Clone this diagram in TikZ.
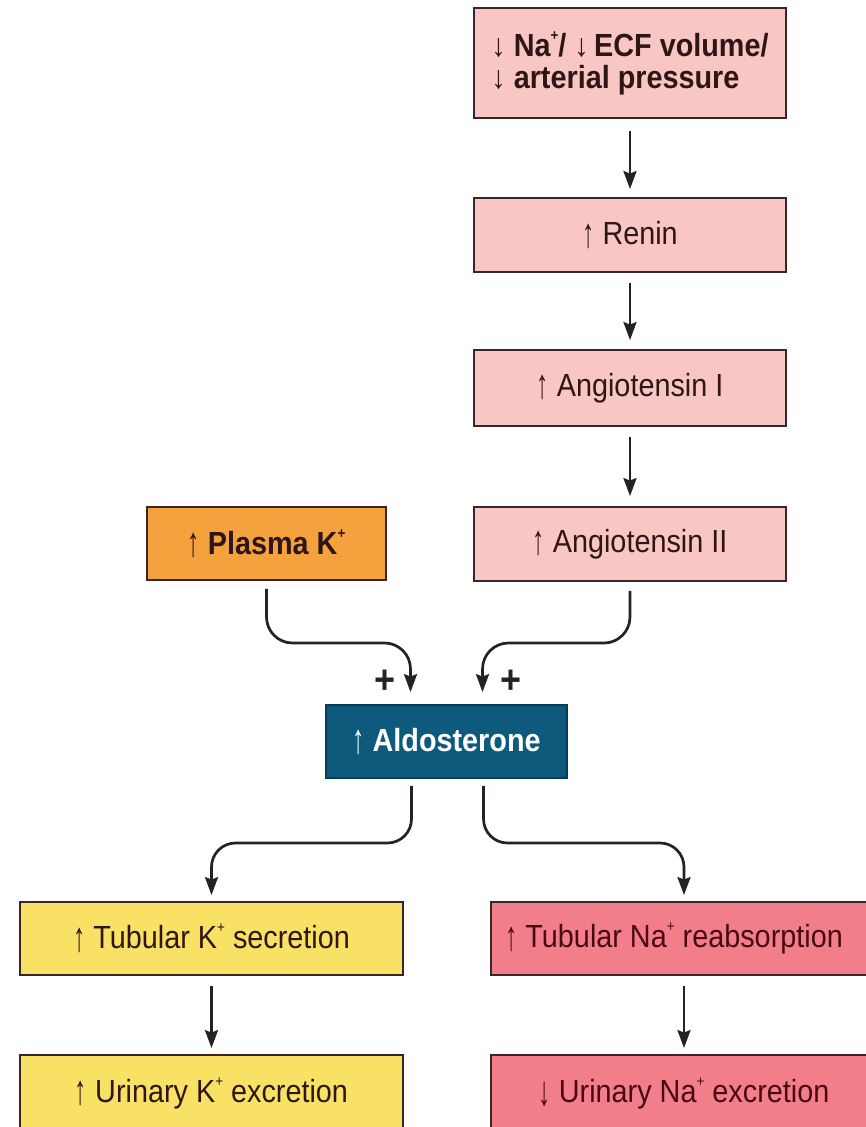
\documentclass[tikz,border=0pt]{standalone}
\usepackage{fontspec}
\setmainfont{Liberation Sans}[FakeStretch=0.9]
\usetikzlibrary{arrows.meta,calc}
\definecolor{pinkbox}{HTML}{F9C7C3}
\definecolor{orangebox}{HTML}{F3A23D}
\definecolor{tealbox}{HTML}{0D5A7C}
\definecolor{tealline}{HTML}{083D56}
\definecolor{yellowbox}{HTML}{F8E165}
\definecolor{redbox}{HTML}{F27E89}
\definecolor{boxline}{HTML}{3A2626}
\definecolor{textdark}{HTML}{2E1616}
\definecolor{textred}{HTML}{4A0A14}
\definecolor{linecol}{HTML}{262222}
\newcommand\upar{\raisebox{-0.08em}{\scalebox{0.85}[1.3]{\mdseries ↑}}}
\newcommand\dnar{\raisebox{-0.12em}{\scalebox{0.85}[1.3]{\mdseries ↓}}}
\newcommand\dnartop{{\mdseries ↓}}
\newcommand\plusup{\raisebox{0.5em}{\fontsize{15}{15}\selectfont +}}
\begin{document}
\begin{tikzpicture}[x=1pt,y=-1pt,
  box/.style={draw=boxline, line width=1.8pt, inner sep=0pt, text=textdark,
    font=\fontsize{32}{30}\selectfont},
  conn/.style={draw=linecol, line width=2.7pt,
    -{Stealth[width=13pt,length=18pt,inset=2.5pt]}},
  plus/.style={text=linecol, inner sep=0pt, font=\fontsize{40}{40}\selectfont\bfseries}]
\useasboundingbox (0,0) rectangle (866,1127);
\fill[white] (0,0) rectangle (866,1127);

\node[box, fill=pinkbox, minimum width=312pt, minimum height=110pt, align=left,
  font=\fontsize{32}{32}\selectfont\bfseries] (na) at (630,63)
  {\dnartop\ Na\plusup/ \dnartop\,ECF volume/\\\dnartop\ arterial pressure};
\node[box, fill=pinkbox, minimum width=312pt, minimum height=74pt] (renin) at (630,235) {\upar\ Renin};
\node[box, fill=pinkbox, minimum width=312pt, minimum height=76pt] (ang1) at (630,388) {\upar\ Angiotensin I};
\node[box, fill=pinkbox, minimum width=312pt, minimum height=74pt] (ang2) at (630,544) {\upar\ Angiotensin II};
\node[box, fill=orangebox, minimum width=239pt, minimum height=73pt,
  font=\fontsize{32}{30}\selectfont\bfseries] (plk) at (266.5,543.5) {\upar\ Plasma K\plusup};
\node[box, fill=tealbox, draw=tealline, text=white, minimum width=241pt, minimum height=73pt,
  font=\fontsize{32}{30}\selectfont\bfseries] (aldo) at (446.5,741.5) {\upar\ Aldosterone};
\node[box, fill=yellowbox, minimum width=383pt, minimum height=73pt] (tubk) at (211.5,938.5)
  {\upar\ Tubular K\plusup\ secretion};
\node[box, fill=yellowbox, minimum width=383pt, minimum height=76pt] (urik) at (211.5,1093)
  {\upar\ Urinary K\plusup\ excretion};
\node[box, fill=redbox, text=textred, minimum width=386pt, minimum height=73pt] (tubna) at (684,938.5)
  {\hspace*{-20pt}\upar\ Tubular Na\plusup\ reabsorption};
\node[box, fill=redbox, text=textred, minimum width=386pt, minimum height=76pt] (urina) at (684,1093)
  {\dnar\ Urinary Na\plusup\ excretion};

\draw[conn, shorten <=12pt, shorten >=8pt] (na) -- (renin);
\draw[conn, shorten <=10pt, shorten >=9pt] (renin) -- (ang1);
\draw[conn, shorten <=10pt, shorten >=10pt] (ang1) -- (ang2);

\coordinate (inL) at ([xshift=-36pt,yshift=12pt]aldo.north);
\coordinate (inR) at ([xshift=36pt,yshift=12pt]aldo.north);
\coordinate (lvlA) at (0,643);
\draw[conn, rounded corners=26pt] ([yshift=-8pt]plk.south) |- (lvlA -| inL) -- (inL);
\draw[conn, rounded corners=26pt] ([yshift=-9pt]ang2.south) |- (lvlA -| inR) -- (inR);
\node[plus] (plusL) at (385,682) {+};
\node[plus] (plusR) at (511,682) {+};

\coordinate (outL) at ([xshift=-35pt,yshift=-7pt]aldo.south);
\coordinate (outR) at ([xshift=37pt,yshift=-7pt]aldo.south);
\coordinate (lvlB) at (0,843);
\coordinate (tkin) at ([yshift=6pt]tubk.north);
\coordinate (tnin) at ([yshift=6pt]tubna.north);
\draw[conn, rounded corners=24pt] (outL) |- (lvlB -| tkin) -- (tkin);
\draw[conn, rounded corners=24pt] (outR) |- (lvlB -| tnin) -- (tnin);

\draw[conn, shorten <=10pt, shorten >=6pt] (tubk) -- (urik);
\draw[conn, shorten <=10pt, shorten >=6pt] (tubna) -- (urina);
\end{tikzpicture}
\end{document}
